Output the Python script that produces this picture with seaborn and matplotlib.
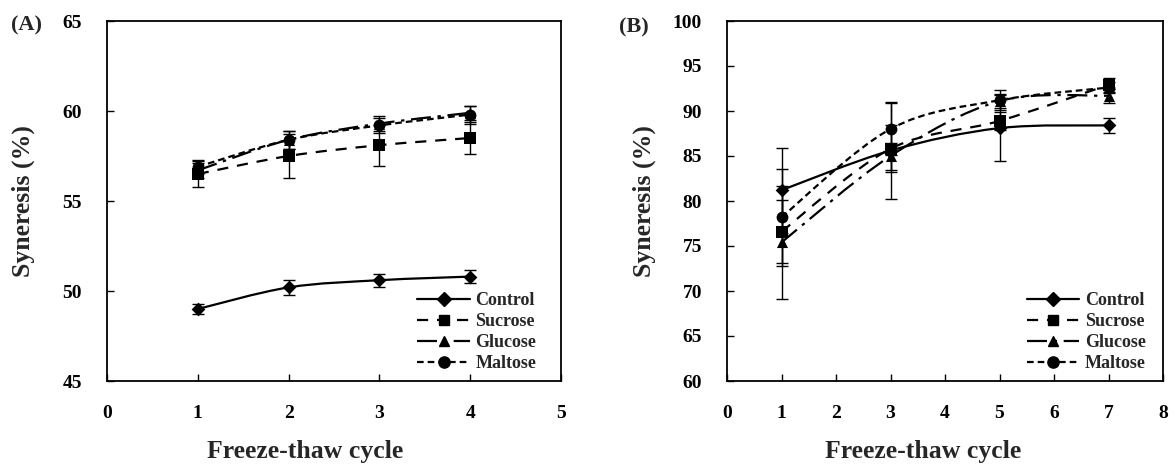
import numpy as np
import matplotlib
matplotlib.use("Agg")
import matplotlib.pyplot as plt
from matplotlib.path import Path
from matplotlib.patches import PathPatch
from matplotlib.lines import Line2D
import seaborn as sns

# ---------------- data ----------------
series_names = ["Control", "Sucrose", "Glucose", "Maltose"]

a_cycles = [1, 2, 3, 4]
a_control = [49.0, 50.2, 50.6, 50.8]
a_control_err = [0.3, 0.4, 0.35, 0.35]
a_sucrose = [56.5, 57.5, 58.1, 58.5]
a_sucrose_err = [0.7, 1.2, 1.15, 0.9]
a_glucose = [56.7, 58.4, 59.3, 59.9]
a_glucose_err = [0.4, 0.5, 0.4, 0.4]
a_maltose = [56.9, 58.4, 59.2, 59.8]
a_maltose_err = [0.4, 0.5, 0.4, 0.5]

b_cycles = [1, 3, 5, 7]
b_control = [81.2, 85.6, 88.1, 88.4]
b_control_err = [4.7, 5.4, 3.7, 0.8]
b_sucrose = [76.6, 85.8, 88.9, 92.9]
b_sucrose_err = [3.5, 2.6, 1.0, 0.8]
b_glucose = [75.4, 85.0, 91.1, 91.7]
b_glucose_err = [6.3, 1.5, 0.8, 0.8]
b_maltose = [78.2, 88.0, 91.2, 92.6]
b_maltose_err = [5.4, 2.9, 1.1, 0.6]

a_yticks = [45, 50, 55, 60, 65]
a_xticks = [0, 1, 2, 3, 4, 5]
b_yticks = [60, 65, 70, 75, 80, 85, 90, 95, 100]
b_xticks = [0, 1, 2, 3, 4, 5, 6, 7, 8]

# ---------------- style ----------------
sns.set_theme(style="white")
plt.rcParams['font.family'] = ['Liberation Serif', 'DejaVu Serif']
plt.rcParams['font.weight'] = 'bold'

styles = {
    "Control": dict(ls="-", marker="D", ms=7),
    "Sucrose": dict(ls=(0, (5, 4)), marker="s", ms=8),
    "Glucose": dict(ls=(0, (9, 3, 1.5, 3)), marker="^", ms=8),
    "Maltose": dict(ls=(0, (3, 1.8)), marker="o", ms=8.5),
}


def smooth_path(ax, x, y, ls):
    # Excel-style smoothed line drawn as cubic Bezier segments through the points
    x = np.asarray(x, float)
    y = np.asarray(y, float)
    n = len(x)
    verts = [(x[0], y[0])]
    codes = [Path.MOVETO]
    for i in range(n - 1):
        i0 = max(i - 1, 0)
        i3 = min(i + 2, n - 1)
        c1 = (x[i] + (x[i + 1] - x[i0]) / 6, y[i] + (y[i + 1] - y[i0]) / 6)
        c2 = (x[i + 1] - (x[i3] - x[i]) / 6, y[i + 1] - (y[i3] - y[i]) / 6)
        verts += [c1, c2, (x[i + 1], y[i + 1])]
        codes += [Path.CURVE4] * 3
    patch = PathPatch(Path(verts, codes), fill=False, edgecolor="black",
                      lw=1.6, linestyle=ls, zorder=2)
    ax.add_patch(patch)


def draw_panel(ax, cycles, data, errs, xticks, yticks):
    for name in series_names:
        st = styles[name]
        y = data[name]
        smooth_path(ax, cycles, y, st["ls"])
        ax.errorbar(cycles, y, yerr=errs[name], fmt="none", ecolor="black",
                    elinewidth=1.0, capsize=4, capthick=1.0, zorder=3)
        sns.scatterplot(x=cycles, y=y, marker=st["marker"], s=st["ms"] ** 2,
                        color="black", edgecolor="black", linewidth=0, ax=ax,
                        zorder=4, legend=False)
    ax.set_xlim(xticks[0], xticks[-1])
    ax.set_ylim(yticks[0], yticks[-1])
    ax.set_xticks(xticks)
    ax.set_yticks(yticks)
    ax.tick_params(axis="both", direction="in", length=5, width=1.0,
                   labelsize=14, colors="black")
    ax.tick_params(axis="y", pad=18, left=True, right=False)
    ax.tick_params(axis="x", pad=17, bottom=True, top=False)
    for lab in ax.get_xticklabels() + ax.get_yticklabels():
        lab.set_fontweight("bold")
    for sp in ax.spines.values():
        sp.set_visible(True)
        sp.set_color("black")
        sp.set_linewidth(1.3)
    ax.set_xlabel("Freeze-thaw cycle", fontsize=18.5, fontweight="bold")
    ax.set_ylabel("Syneresis (%)", fontsize=18.5, fontweight="bold")

    handles = [Line2D([0], [0], color="black", lw=1.6, ls=styles[n]["ls"],
                      marker=styles[n]["marker"], ms=styles[n]["ms"] * 0.95,
                      markerfacecolor="black", markeredgecolor="black")
               for n in series_names]
    leg = ax.legend(handles, series_names, loc="lower right",
                    bbox_to_anchor=(0.945, 0.025), frameon=False, fontsize=13,
                    handlelength=2.9, handletextpad=0.3, labelspacing=0.22,
                    borderpad=0, borderaxespad=0)
    for t in leg.get_texts():
        t.set_fontweight("bold")


fig = plt.figure(figsize=(11.75, 4.66), dpi=100)
W, H = 1175, 466
ax_a = fig.add_axes([107 / W, 1 - 381 / H, 454 / W, 360 / H])
ax_b = fig.add_axes([727 / W, 1 - 381 / H, 436 / W, 360 / H])

draw_panel(ax_a, a_cycles,
           {"Control": a_control, "Sucrose": a_sucrose, "Glucose": a_glucose, "Maltose": a_maltose},
           {"Control": a_control_err, "Sucrose": a_sucrose_err, "Glucose": a_glucose_err, "Maltose": a_maltose_err},
           a_xticks, a_yticks)
draw_panel(ax_b, b_cycles,
           {"Control": b_control, "Sucrose": b_sucrose, "Glucose": b_glucose, "Maltose": b_maltose},
           {"Control": b_control_err, "Sucrose": b_sucrose_err, "Glucose": b_glucose_err, "Maltose": b_maltose_err},
           b_xticks, b_yticks)
ax_b.get_legend().set_bbox_to_anchor((0.96, 0.025))

ax_a.yaxis.set_label_coords(-0.158, 0.5)
ax_a.xaxis.set_label_coords(0.436, -0.165)
ax_b.yaxis.set_label_coords(-0.163, 0.5)
ax_b.xaxis.set_label_coords(0.45, -0.165)

fig.text(11 / W, 1 - 25 / H, "(A)", fontsize=16, fontweight="bold", va="center", ha="left")
fig.text(619 / W, 1 - 27 / H, "(B)", fontsize=16, fontweight="bold", va="center", ha="left")

fig.savefig("out.png", dpi=100, facecolor="white")
